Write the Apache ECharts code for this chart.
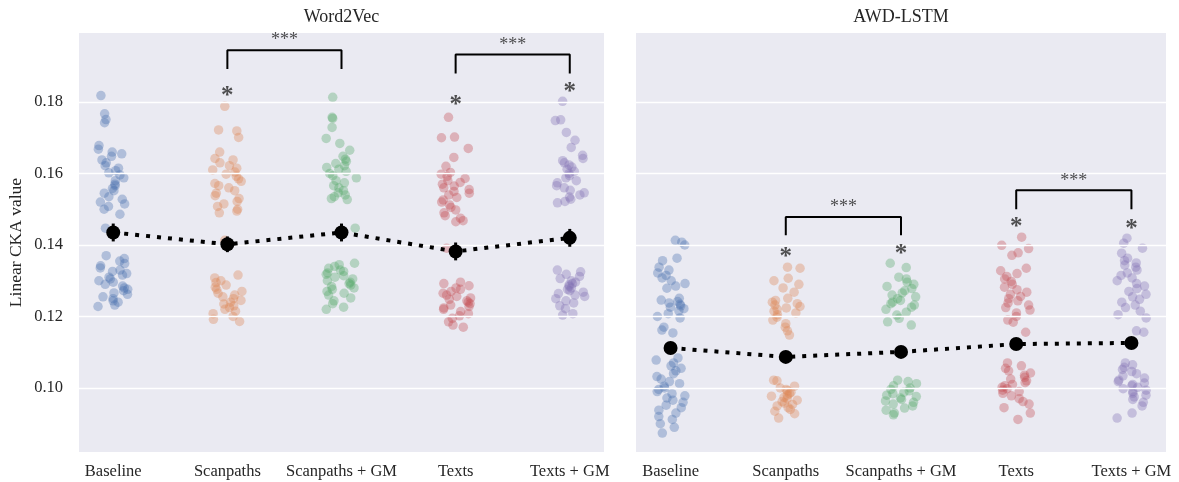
<!DOCTYPE html>
<html>
<head>
<meta charset="utf-8">
<script src="https://cdn.jsdelivr.net/npm/echarts@6/dist/echarts.min.js"></script>
<style>html,body{margin:0;padding:0;background:#fff}#c{width:1179px;height:482px}</style>
</head>
<body>
<div id="c"></div>
<script>
const categories = ['Baseline', 'Scanpaths', 'Scanpaths + GM', 'Texts', 'Texts + GM'];
const panelTitles = ['Word2Vec', 'AWD-LSTM'];
const yTicks = [0.10, 0.12, 0.14, 0.16, 0.18];
const colors = ['#4C72B0', '#DD8452', '#55A868', '#C44E52', '#8172B3'];

const w2v_baseline = [0.1818,0.1767,0.1751,0.1742,0.1678,0.1668,0.1660,0.1655,0.1648,0.1638,0.1630,0.1622,0.1615,0.1608,0.1602,0.1596,0.1588,0.1580,0.1570,0.1566,0.1558,0.1552,0.1545,0.1535,0.1528,0.1520,0.1515,0.1508,0.1500,0.1486,0.1447,0.1370,0.1362,0.1355,0.1348,0.1342,0.1336,0.1330,0.1326,0.1320,0.1316,0.1310,0.1305,0.1300,0.1296,0.1290,0.1285,0.1280,0.1276,0.1272,0.1266,0.1262,0.1255,0.1250,0.1244,0.1240,0.1232,0.1228];
const w2v_scan = [0.1788,0.1722,0.1719,0.1701,0.1660,0.1642,0.1638,0.1630,0.1622,0.1615,0.1610,0.1604,0.1598,0.1592,0.1585,0.1578,0.1572,0.1566,0.1560,0.1552,0.1545,0.1538,0.1530,0.1522,0.1515,0.1508,0.1500,0.1495,0.1490,0.1413,0.1316,0.1308,0.1300,0.1295,0.1288,0.1282,0.1276,0.1270,0.1265,0.1260,0.1255,0.1250,0.1245,0.1240,0.1235,0.1230,0.1225,0.1220,0.1215,0.1208,0.1200,0.1192,0.1186];
const w2v_scangm = [0.1813,0.1757,0.1754,0.1729,0.1698,0.1684,0.1665,0.1648,0.1640,0.1634,0.1628,0.1622,0.1617,0.1612,0.1606,0.1600,0.1594,0.1588,0.1580,0.1574,0.1566,0.1560,0.1552,0.1546,0.1540,0.1535,0.1530,0.1527,0.1447,0.1349,0.1345,0.1340,0.1335,0.1330,0.1326,0.1322,0.1318,0.1314,0.1310,0.1305,0.1300,0.1296,0.1292,0.1288,0.1284,0.1280,0.1276,0.1270,0.1265,0.1260,0.1252,0.1244,0.1236,0.1226,0.1220];
const w2v_texts = [0.1757,0.1702,0.1700,0.1670,0.1645,0.1620,0.1603,0.1598,0.1592,0.1586,0.1580,0.1575,0.1570,0.1565,0.1560,0.1555,0.1550,0.1545,0.1540,0.1533,0.1526,0.1520,0.1512,0.1505,0.1498,0.1490,0.1482,0.1475,0.1468,0.1465,0.1391,0.1296,0.1292,0.1286,0.1280,0.1276,0.1270,0.1265,0.1260,0.1256,0.1252,0.1248,0.1244,0.1240,0.1236,0.1232,0.1228,0.1224,0.1220,0.1214,0.1208,0.1202,0.1195,0.1185,0.1176,0.1170];
const w2v_textsgm = [0.1802,0.1750,0.1748,0.1715,0.1693,0.1673,0.1651,0.1642,0.1636,0.1630,0.1624,0.1618,0.1612,0.1606,0.1600,0.1594,0.1588,0.1580,0.1574,0.1566,0.1560,0.1553,0.1546,0.1540,0.1534,0.1528,0.1522,0.1518,0.1330,0.1325,0.1318,0.1312,0.1306,0.1300,0.1296,0.1292,0.1288,0.1284,0.1280,0.1276,0.1272,0.1268,0.1264,0.1260,0.1256,0.1250,0.1244,0.1238,0.1230,0.1222,0.1208,0.1204];

const awd_baseline = [0.1413,0.1408,0.1400,0.1363,0.1356,0.1338,0.1330,0.1322,0.1315,0.1308,0.1300,0.1292,0.1285,0.1279,0.1251,0.1246,0.1242,0.1238,0.1234,0.1230,0.1226,0.1222,0.1216,0.1208,0.1200,0.1196,0.1170,0.1162,0.1154,0.1084,0.1078,0.1070,0.1062,0.1055,0.1048,0.1040,0.1032,0.1025,0.1018,0.1012,0.1005,0.1000,0.0996,0.0990,0.0984,0.0978,0.0972,0.0966,0.0960,0.0952,0.0945,0.0938,0.0930,0.0920,0.0912,0.0900,0.0890,0.0874];
const awd_scan = [0.1338,0.1335,0.1307,0.1300,0.1290,0.1280,0.1268,0.1251,0.1245,0.1240,0.1236,0.1232,0.1228,0.1224,0.1220,0.1215,0.1210,0.1205,0.1198,0.1190,0.1180,0.1170,0.1160,0.1148,0.1022,0.1020,0.1005,0.1000,0.0996,0.0992,0.0988,0.0984,0.0980,0.0977,0.0974,0.0970,0.0966,0.0962,0.0958,0.0954,0.0950,0.0945,0.0940,0.0935,0.0928,0.0916];
const awd_scangm = [0.1349,0.1337,0.1310,0.1305,0.1296,0.1290,0.1284,0.1278,0.1272,0.1266,0.1260,0.1255,0.1250,0.1245,0.1240,0.1236,0.1232,0.1226,0.1220,0.1212,0.1204,0.1195,0.1185,0.1176,0.1022,0.1018,0.1012,0.1006,0.1000,0.0996,0.0992,0.0988,0.0984,0.0980,0.0976,0.0972,0.0968,0.0964,0.0960,0.0955,0.0950,0.0944,0.0938,0.0930,0.0925];
const awd_texts = [0.1422,0.1399,0.1390,0.1378,0.1371,0.1335,0.1328,0.1320,0.1312,0.1305,0.1298,0.1290,0.1282,0.1275,0.1268,0.1262,0.1256,0.1250,0.1244,0.1238,0.1232,0.1225,0.1218,0.1210,0.1200,0.1190,0.1184,0.1156,0.1070,0.1062,0.1055,0.1048,0.1042,0.1036,0.1030,0.1025,0.1020,0.1015,0.1010,0.1006,0.1002,0.0998,0.0994,0.0990,0.0985,0.0978,0.0970,0.0962,0.0955,0.0945,0.0930,0.0912];
const awd_textsgm = [0.1419,0.1405,0.1391,0.1377,0.1363,0.1356,0.1350,0.1344,0.1338,0.1330,0.1322,0.1315,0.1308,0.1300,0.1292,0.1285,0.1278,0.1270,0.1262,0.1255,0.1248,0.1240,0.1232,0.1225,0.1215,0.1205,0.1196,0.1160,0.1156,0.1070,0.1065,0.1058,0.1052,0.1046,0.1040,0.1034,0.1028,0.1022,0.1018,0.1014,0.1010,0.1006,0.1002,0.0998,0.0994,0.0990,0.0985,0.0980,0.0975,0.0968,0.0960,0.0950,0.0930,0.0916];

const w2v_means = [0.1435, 0.1402, 0.1435, 0.1382, 0.1420];
const awd_means = [0.1112, 0.1087, 0.1101, 0.1123, 0.1126];
const w2v_err = [0.0025, 0.0022, 0.0025, 0.0025, 0.0025];
const awd_err = [0.0012, 0.0010, 0.0010, 0.0012, 0.0012];

const w2v_bracket_pairs = [[1, 2], [3, 4]];
const w2v_bracket_top = [0.1945, 0.1933];
const w2v_bracket_bottom = [0.1892, 0.1880];
const w2v_star_cats = [1, 3, 4];
const w2v_star_y = [0.1833, 0.1806, 0.1844];

const awd_bracket_pairs = [[1, 2], [3, 4]];
const awd_bracket_top = [0.1478, 0.1553];
const awd_bracket_bottom = [0.1427, 0.1500];
const awd_star_cats = [1, 2, 3, 4];
const awd_star_y = [0.1383, 0.1391, 0.1467, 0.1461];

const panels = [
  {groups: [w2v_baseline, w2v_scan, w2v_scangm, w2v_texts, w2v_textsgm], means: w2v_means, err: w2v_err,
   pairs: w2v_bracket_pairs, top: w2v_bracket_top, bottom: w2v_bracket_bottom, starCats: w2v_star_cats, starY: w2v_star_y},
  {groups: [awd_baseline, awd_scan, awd_scangm, awd_texts, awd_textsgm], means: awd_means, err: awd_err,
   pairs: awd_bracket_pairs, top: awd_bracket_top, bottom: awd_bracket_bottom, starCats: awd_star_cats, starY: awd_star_y}
];

const FONT = '"Liberation Serif", "Times New Roman", serif';
const TXT = '#262626';
const YMIN = 0.0821, YMAX = 0.1993;

// deterministic strip-plot jitter offset (horizontal spread only)
function jitter(i, ci, pi) {
  const a = Math.sin((i + 1) * 91.3458 + ci * 47.853 + pi * 13.17) * 24634.6345;
  const b = Math.sin((i + 3) * 12.9898 + ci * 78.233 + pi * 37.719) * 43758.5453;
  const f = ((a - Math.floor(a)) + (b - Math.floor(b))) % 1;
  return (f - 0.5) * 0.27;
}

const grids = [
  {left: 79, right: 575, top: 33, bottom: 30, show: true, backgroundColor: '#EAEAF2', borderWidth: 0},
  {left: 636, right: 13, top: 33, bottom: 30, show: true, backgroundColor: '#EAEAF2', borderWidth: 0}
];
const xAxes = [0, 1].map(i => ({
  type: 'value', gridIndex: i, min: -0.3, max: 4.3,
  axisLine: {show: false}, axisTick: {show: false}, splitLine: {show: false},
  axisLabel: {customValues: [0, 1, 2, 3, 4], formatter: v => categories[Math.round(v)] || '',
    fontFamily: FONT, fontSize: 16.5, color: TXT, margin: 11}
}));
const yAxes = [0, 1].map(i => ({
  type: 'value', gridIndex: i, min: YMIN, max: YMAX,
  name: i === 0 ? 'Linear CKA value' : '', nameLocation: 'middle', nameGap: 54,
  nameTextStyle: {fontFamily: FONT, fontSize: 17.5, color: TXT},
  axisLine: {show: false}, axisTick: {show: false}, splitLine: {show: false},
  axisLabel: {show: i === 0, customValues: yTicks, formatter: v => v.toFixed(2),
    fontFamily: FONT, fontSize: 16.5, color: TXT, margin: 16}
}));

const series = [];
panels.forEach((p, pi) => {
  series.push({
    type: 'line', xAxisIndex: pi, yAxisIndex: pi, data: [], silent: true, z: 0,
    markLine: {silent: true, symbol: 'none', label: {show: false}, animation: false,
      lineStyle: {color: '#ffffff', width: 1.3, type: 'solid'},
      data: yTicks.map(t => ({yAxis: t}))}
  });
  p.groups.forEach((vals, ci) => {
    series.push({
      type: 'scatter', xAxisIndex: pi, yAxisIndex: pi, z: 2,
      symbolSize: 9.5,
      itemStyle: {color: colors[ci], opacity: 0.36},
      data: vals.map((v, i) => [ci + jitter(i, ci, pi), v])
    });
  });
  series.push({
    type: 'line', xAxisIndex: pi, yAxisIndex: pi, z: 5,
    data: p.means.map((m, i) => [i, m]),
    symbol: 'circle', symbolSize: 14,
    itemStyle: {color: '#000'},
    lineStyle: {color: '#000', width: 4, type: [4, 7], cap: 'butt'}
  });
  series.push({
    type: 'custom', xAxisIndex: pi, yAxisIndex: pi, z: 6,
    data: p.means.map((m, i) => [i, m - p.err[i], m + p.err[i]]),
    renderItem: (params, api) => {
      const a = api.coord([api.value(0), api.value(1)]);
      const b = api.coord([api.value(0), api.value(2)]);
      return {type: 'line', shape: {x1: a[0], y1: a[1], x2: b[0], y2: b[1]},
        style: {stroke: '#000', lineWidth: 3}};
    }
  });
  p.pairs.forEach((pr, k) => {
    series.push({
      type: 'line', xAxisIndex: pi, yAxisIndex: pi, z: 7, symbol: 'none',
      lineStyle: {color: '#000', width: 2},
      data: [[pr[0], p.bottom[k]], [pr[0], p.top[k]], [pr[1], p.top[k]], [pr[1], p.bottom[k]]]
    });
  });
  series.push({
    type: 'scatter', xAxisIndex: pi, yAxisIndex: pi, z: 8, symbolSize: 1,
    itemStyle: {color: 'rgba(0,0,0,0)'},
    label: {show: true, position: 'top', distance: 0, formatter: '***',
      fontFamily: FONT, fontSize: 18, color: TXT},
    data: p.pairs.map((pr, k) => [(pr[0] + pr[1]) / 2, p.top[k]])
  });
  series.push({
    type: 'scatter', xAxisIndex: pi, yAxisIndex: pi, z: 8, symbolSize: 1,
    itemStyle: {color: 'rgba(0,0,0,0)'},
    label: {show: true, position: 'inside', formatter: '*', offset: [0, 6],
      fontFamily: FONT, fontSize: 25, fontWeight: 'bold', color: TXT},
    data: p.starCats.map((c, k) => [c, p.starY[k]])
  });
});

const chart = echarts.init(document.getElementById('c'), null, {renderer: 'canvas'});
chart.setOption({
  animation: false,
  backgroundColor: '#ffffff',
  grid: grids, xAxis: xAxes, yAxis: yAxes, series: series,
  graphic: [
    {type: 'text', x: 341.5, y: 17, style: {text: panelTitles[0], textAlign: 'center', textVerticalAlign: 'middle', font: '18px ' + FONT, fill: TXT}},
    {type: 'text', x: 901, y: 17, style: {text: panelTitles[1], textAlign: 'center', textVerticalAlign: 'middle', font: '18px ' + FONT, fill: TXT}}
  ]
});
</script>
</body>
</html>
